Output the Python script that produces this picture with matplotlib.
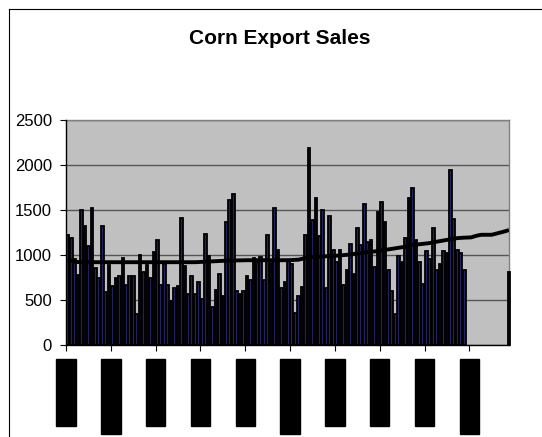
import matplotlib
matplotlib.use('Agg')
import matplotlib.pyplot as plt
import numpy as np
from matplotlib.lines import Line2D

plt.rcParams['font.family'] = ['Liberation Sans', 'DejaVu Sans']

# Weekly corn export sales (weeks 0..115)
weekly_sales = [
    1220, 1185, 950, 780, 1500, 1315, 1100, 1520, 850, 740,
    1315, 585, 890, 650, 740, 760, 960, 670, 760, 760,
    345, 1000, 805, 890, 740, 1030,
    1167, 670, 893, 670, 489, 630, 650, 1407, 874, 563,
    763, 563, 693, 511, 1230, 989, 426, 611, 785, 544,
    1363, 1604, 1674, 604, 563, 600, 763, 719,
    963, 915, 981, 719, 1222, 907, 1519, 1048, 630, 693,
    937, 900, 359, 544, 648, 1222, 2185, 1389, 1630, 1204,
    1500, 630, 1426, 1048, 915, 1048, 667, 833,
    1122, 789, 1296, 1111, 1563, 1137, 1167, 870, 1470, 1585,
    1359, 826, 604, 344, 985, 920, 1185, 1630, 1741, 1160,
    920, 678, 1044, 950, 1296, 826, 900, 1040, 1020, 1937,
    1400, 1048, 1020, 826,
]
last_week = 128
last_week_sales = 810

# Average / trend line (weeks 0..128)
trend = [
    945, 935, 925, 920, 918, 918, 918, 918, 918, 918,
    918, 918, 918, 918, 918, 918, 918, 918, 918, 918,
    918, 918, 918, 918, 918, 918, 918, 918, 918, 918,
    918, 918, 918, 918, 918, 918, 918, 918, 920, 922,
    924, 926, 928, 930, 932, 934, 935, 936, 937, 938,
    940, 940, 940, 940, 940, 940, 940, 940, 940, 940,
    940, 940, 940, 940, 940, 942, 944, 946, 955, 968,
    972, 975, 977, 979, 981, 983, 985, 988, 990, 993,
    997, 1000, 1005, 1010, 1015, 1020, 1025, 1030, 1034, 1037,
    1042, 1048, 1054, 1060, 1066, 1072, 1078, 1084, 1090, 1100,
    1108, 1113, 1117, 1121, 1125, 1130, 1138, 1145, 1152, 1159,
    1165, 1172, 1178, 1185, 1188, 1190, 1192, 1193, 1205, 1215,
    1222, 1222, 1222, 1222, 1232, 1242, 1252, 1262, 1275,
]

tick_labels = ['9/30/2004', '12/30/2004', '3/31/2005', '6/30/2005', '9/29/2005',
               '12/29/2005', '3/30/2006', '6/29/2006', '9/28/2006', '12/28/2006']
y_ticks = [0, 500, 1000, 1500, 2000, 2500]

W, H = 542, 437
fig = plt.figure(figsize=(W / 100, H / 100), dpi=100)
fig.patch.set_facecolor('white')

ax = fig.add_axes([66 / W, 1 - 345 / H, (509 - 66) / W, (345 - 119.5) / H])
ax.set_facecolor('#C0C0C0')

weeks = np.arange(len(weekly_sales))
ax.bar(weeks, weekly_sales, width=0.78, color='#22225e', edgecolor='black',
       linewidth=1.3, zorder=3)
ax.bar([last_week], [last_week_sales], width=0.78, color='#22225e',
       edgecolor='black', linewidth=1.3, zorder=3, clip_on=False)
ax.plot(np.arange(len(trend)), trend, color='black', lw=2.8, zorder=4,
        solid_capstyle='butt')

ax.set_xlim(-0.5, 128)
ax.set_ylim(0, 2500)
ax.set_yticks(y_ticks)
ax.yaxis.grid(True, color='#555555', lw=1.0)
ax.set_axisbelow(True)

for s in ['top', 'right']:
    ax.spines[s].set_color('#808080')
    ax.spines[s].set_linewidth(1.0)
for s in ['left', 'bottom']:
    ax.spines[s].set_color('black')
    ax.spines[s].set_linewidth(1.0)
    ax.spines[s].set_zorder(5)

ax.tick_params(axis='y', direction='out', length=4, width=0.8, labelsize=12, pad=6)
ax.tick_params(axis='x', direction='out', length=4, width=0.8, pad=9)

tick_pos = np.arange(len(tick_labels)) * 13 - 0.5
ax.set_xticks(tick_pos)
ax.set_xticklabels(tick_labels, rotation=90, fontsize=9.6, color='black')
for lbl in ax.get_xticklabels():
    lbl.set_bbox(dict(facecolor='black', edgecolor='black',
                      boxstyle='square,pad=0.28'))

fig.text(280 / W, 1 - 38 / H, 'Corn Export Sales', ha='center', va='center',
         fontsize=15, fontweight='bold')

# outer chart border (left and top edges visible)
fig.add_artist(Line2D([9 / W, 9 / W], [0, 1 - 9 / H], color='black', lw=0.8))
fig.add_artist(Line2D([9 / W, 1], [1 - 9 / H, 1 - 9 / H], color='black', lw=0.8))

fig.savefig('out.png', dpi=100)
